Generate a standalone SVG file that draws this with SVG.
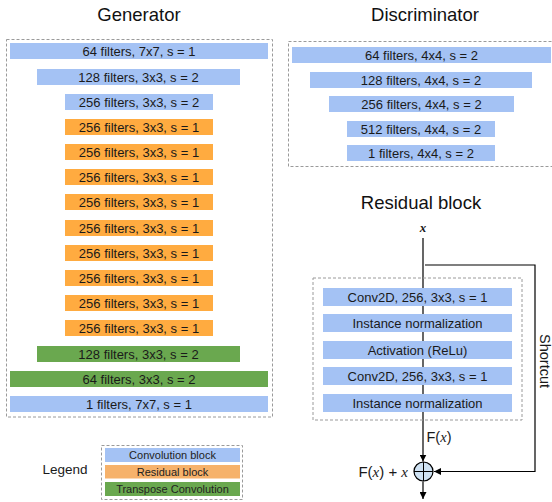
<svg xmlns="http://www.w3.org/2000/svg" width="552" height="502" viewBox="0 0 552 502">
<defs>
<marker id="arr" viewBox="0 0 8 8" refX="8" refY="4" markerWidth="7" markerHeight="7" markerUnits="userSpaceOnUse" orient="auto">
<path d="M0,0 L8,4 L0,8 z" fill="#000"/>
</marker>
</defs>
<style>
text{font-family:"Liberation Sans",Arial,sans-serif;fill:#1a1a1a}
.title{font-size:18.5px;text-anchor:middle;fill:#111}
.lbl{font-size:13px;text-anchor:middle}
.leg{font-size:11px;text-anchor:middle;fill:#222}
.blue{fill:#a4c2f4}
.orange{fill:#ffab40}
.lorange{fill:#f6b26b}
.green{fill:#6aa84f}
.dash{fill:none;stroke:#9a9a9a;stroke-width:1;stroke-dasharray:3 2}
.conn{fill:none;stroke:#000;stroke-width:1.2}
.math{font-family:"Liberation Serif","Times New Roman",serif;font-style:italic}
</style>
<rect width="552" height="502" fill="#fff"/>

<text class="title" x="139" y="21">Generator</text>
<text class="title" x="425" y="21">Discriminator</text>
<text class="title" x="421" y="208.5">Residual block</text>

<g id="generator">
<rect class="dash" x="6.5" y="39.5" width="266" height="377.5"/>
<g id="g1"><rect class="blue" x="10" y="43" width="258" height="16"/><text class="lbl" x="139" y="55.6">64 filters, 7x7, s = 1</text></g>
<g id="g2"><rect class="blue" x="37" y="69" width="203" height="16"/><text class="lbl" x="138.5" y="81.6">128 filters, 3x3, s = 2</text></g>
<g id="g3"><rect class="blue" x="65" y="94" width="148" height="16"/><text class="lbl" x="139" y="106.6">256 filters, 3x3, s = 2</text></g>
<g id="g4"><rect class="orange" x="65" y="119" width="148" height="16"/><text class="lbl" x="139" y="131.6">256 filters, 3x3, s = 1</text></g>
<g id="g5"><rect class="orange" x="65" y="144" width="148" height="16"/><text class="lbl" x="139" y="156.6">256 filters, 3x3, s = 1</text></g>
<g id="g6"><rect class="orange" x="65" y="169" width="148" height="16"/><text class="lbl" x="139" y="181.6">256 filters, 3x3, s = 1</text></g>
<g id="g7"><rect class="orange" x="65" y="194" width="148" height="16"/><text class="lbl" x="139" y="206.6">256 filters, 3x3, s = 1</text></g>
<g id="g8"><rect class="orange" x="65" y="220" width="148" height="16"/><text class="lbl" x="139" y="232.6">256 filters, 3x3, s = 1</text></g>
<g id="g9"><rect class="orange" x="65" y="245" width="148" height="16"/><text class="lbl" x="139" y="257.6">256 filters, 3x3, s = 1</text></g>
<g id="g10"><rect class="orange" x="65" y="270" width="148" height="16"/><text class="lbl" x="139" y="282.6">256 filters, 3x3, s = 1</text></g>
<g id="g11"><rect class="orange" x="65" y="295" width="148" height="16"/><text class="lbl" x="139" y="307.6">256 filters, 3x3, s = 1</text></g>
<g id="g12"><rect class="orange" x="65" y="320" width="148" height="16"/><text class="lbl" x="139" y="332.6">256 filters, 3x3, s = 1</text></g>
<g id="g13"><rect class="green" x="37" y="346" width="203" height="16"/><text class="lbl" x="138.5" y="358.6">128 filters, 3x3, s = 2</text></g>
<g id="g14"><rect class="green" x="10" y="371" width="258" height="16"/><text class="lbl" x="139" y="383.6">64 filters, 3x3, s = 2</text></g>
<g id="g15"><rect class="blue" x="10" y="396" width="258" height="16"/><text class="lbl" x="139" y="408.6">1 filters, 7x7, s = 1</text></g>
</g>

<g id="discriminator">
<rect class="dash" x="288.5" y="41.5" width="280" height="125"/>
<g id="d1"><rect class="blue" x="292" y="47" width="259" height="16"/><text class="lbl" x="421.5" y="59.6">64 filters, 4x4, s = 2</text></g>
<g id="d2"><rect class="blue" x="310" y="72" width="222" height="16"/><text class="lbl" x="421" y="84.6">128 filters, 4x4, s = 2</text></g>
<g id="d3"><rect class="blue" x="329" y="96" width="185" height="16"/><text class="lbl" x="421.5" y="108.6">256 filters, 4x4, s = 2</text></g>
<g id="d4"><rect class="blue" x="347" y="121" width="148" height="16"/><text class="lbl" x="421" y="133.6">512 filters, 4x4, s = 2</text></g>
<g id="d5"><rect class="blue" x="347" y="145" width="148" height="16"/><text class="lbl" x="421" y="157.6">1 filters, 4x4, s = 2</text></g>
</g>

<g id="connectors">
<line class="conn" x1="423" y1="238" x2="423" y2="461.5" marker-end="url(#arr)"/>
<path class="conn" d="M425,265 H535 V471.5 H434" marker-end="url(#arr)"/>
<line class="conn" x1="423" y1="481.5" x2="423" y2="499" marker-end="url(#arr)"/>
</g>

<g id="residual">
<rect class="dash" x="313" y="278" width="209" height="142"/>
<g id="r1"><rect class="blue" x="323" y="288" width="189" height="18"/><text class="lbl" x="417.5" y="301.6">Conv2D, 256, 3x3, s = 1</text></g>
<g id="r2"><rect class="blue" x="323" y="314" width="189" height="18"/><text class="lbl" x="417.5" y="327.6">Instance normalization</text></g>
<g id="r3"><rect class="blue" x="323" y="341" width="189" height="18"/><text class="lbl" x="417.5" y="354.6">Activation (ReLu)</text></g>
<g id="r4"><rect class="blue" x="323" y="367" width="189" height="18"/><text class="lbl" x="417.5" y="380.6">Conv2D, 256, 3x3, s = 1</text></g>
<g id="r5"><rect class="blue" x="323" y="394" width="189" height="18"/><text class="lbl" x="417.5" y="407.6">Instance normalization</text></g>
</g>

<g id="input-x"><text x="423" y="232" text-anchor="middle" style="font-family:'Liberation Serif',serif;font-style:italic;font-weight:bold;font-size:13px">x</text></g>
<g id="fx-label"><text x="426.5" y="442" style="font-size:14.5px">F(<tspan class="math">x</tspan>)</text></g>
<g id="sum">
<circle cx="423.5" cy="471.5" r="9.5" fill="#cfe2f3" stroke="#000" stroke-width="1.2"/>
<line x1="414" y1="471.5" x2="433" y2="471.5" stroke="#000" stroke-width="1"/>
<line x1="423.5" y1="462" x2="423.5" y2="481" stroke="#000" stroke-width="1"/>
</g>
<g id="sum-label"><text x="408" y="476.5" text-anchor="end" style="font-size:15px">F(<tspan class="math">x</tspan>) + <tspan class="math">x</tspan></text></g>
<g id="shortcut-label"><text x="0" y="0" transform="translate(539.5,361) rotate(90)" text-anchor="middle" style="font-size:14.5px">Shortcut</text></g>

<g id="legend">
<text x="65" y="474" text-anchor="middle" style="font-size:13.5px">Legend</text>
<rect class="dash" x="101.5" y="445.5" width="141" height="54"/>
<g id="l1"><rect class="blue" x="105" y="448" width="135" height="14"/><text class="leg" x="172.5" y="459">Convolution block</text></g>
<g id="l2"><rect class="lorange" x="105" y="465" width="135" height="13.5"/><text class="leg" x="172.5" y="475.8">Residual block</text></g>
<g id="l3"><rect class="green" x="105" y="482" width="135" height="14"/><text class="leg" x="172.5" y="493">Transpose Convolution</text></g>
</g>
</svg>
